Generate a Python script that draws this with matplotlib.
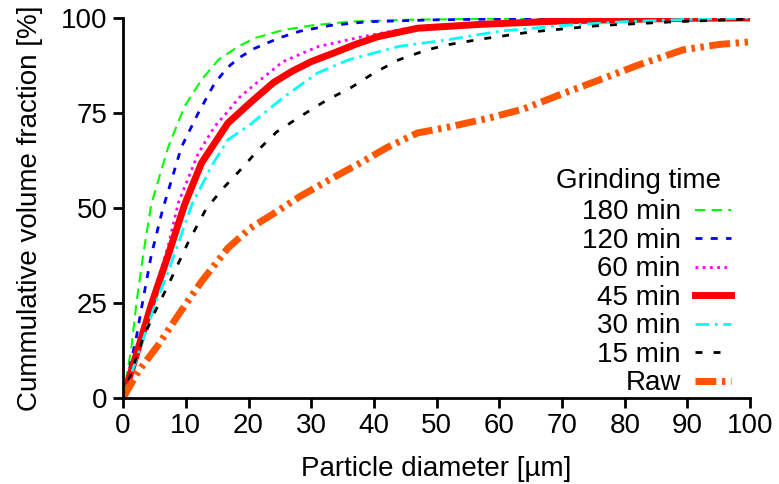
import matplotlib
matplotlib.use("Agg")
import matplotlib.pyplot as plt

plt.rcParams['font.family'] = ['Liberation Sans', 'DejaVu Sans']
plt.rcParams['font.size'] = 20

# Data: particle diameter (um) and cumulative volume fraction (%)
d_180 = [0, 1.3, 2.1, 3.2, 4.5, 7.2, 9.8, 12.5, 15.2, 18.3, 21, 25.5, 30, 36, 45, 60, 80, 100]
v_180 = [0, 13, 24.5, 37.6, 51, 66, 76.7, 83.7, 89, 92.4, 94.7, 96.8, 98, 99, 99.5, 99.8, 100, 100]

d_120 = [0, 2.1, 3.2, 4.5, 6.3, 9.3, 12, 14.6, 16.7, 18.5, 21, 25, 28.2, 33, 39, 50, 65, 80, 100]
v_120 = [0, 15.8, 26, 37.6, 49.5, 66, 75, 82.8, 87, 89.5, 92, 94.8, 96.5, 98, 99, 99.5, 99.8, 100, 100]

d_60 = [0, 2.4, 4.5, 7.2, 8.8, 12, 14.6, 16.5, 18.5, 21, 25.5, 31, 38, 45, 50, 60, 70, 80, 100]
v_60 = [0, 13.5, 25.5, 40, 51.3, 64.4, 71.4, 75, 79, 82.5, 88.5, 92.4, 95, 97.2, 98, 98.8, 99.3, 99.7, 100]

d_45 = [0, 2.4, 4.5, 7.2, 9.8, 12.5, 16.7, 20.5, 24, 27, 30, 33.5, 37, 40.5, 47, 57, 70, 80, 90, 100]
v_45 = [0, 13, 24.5, 37.6, 50.8, 61.8, 72.3, 78, 83, 86, 88.5, 90.7, 93, 95, 97.3, 98.3, 99.2, 99.6, 99.9, 100]

d_30 = [0, 2.7, 5.1, 7.2, 11, 14.1, 16.7, 20.3, 25.5, 31, 36, 44, 52, 60, 70, 80, 90, 100]
v_30 = [0, 13, 24.5, 33.2, 51, 61, 67.9, 72, 79, 85.5, 89, 92.5, 94.3, 96.5, 98, 99, 99.6, 100]

d_15 = [0, 1.9, 3.2, 5.1, 7.2, 10.4, 13.3, 16.2, 19, 21.4, 24.5, 28.2, 32.5, 36.2, 40, 44, 48.5, 52, 57.4, 65, 76, 88, 100]
v_15 = [0, 9.6, 15.8, 22.7, 29.7, 41, 49.9, 55.6, 60.5, 65, 70, 74, 78.4, 81.5, 85.5, 89, 91.6, 93, 94.5, 96.3, 98, 99, 99.7]

d_raw = [0, 2.4, 5.6, 8.8, 12.5, 16.7, 20.3, 24, 28.2, 33, 37.8, 42, 46.9, 52, 58.5, 63.8, 70, 76, 82, 89.3, 95, 100]
v_raw = [0, 6.9, 13.9, 21.8, 30.6, 39.4, 44.7, 48.5, 53, 57.5, 61.8, 65.8, 69.7, 71.3, 73.7, 76, 80, 83.7, 87.5, 91.6, 93, 93.7]

labels = ['180 min', '120 min', '60 min', '45 min', '30 min', '15 min', 'Raw']
legend_title = 'Grinding time'

fig = plt.figure(figsize=(7.79, 4.84), dpi=100)
ax = fig.add_axes([0.158, 0.178, 0.805, 0.785])

ax.plot(d_180, v_180, color='#00ff00', lw=1.5, dashes=(5, 3), label=labels[0])
ax.plot(d_120, v_120, color='#0000ff', lw=2, dashes=(2.5, 3), label=labels[1])
ax.plot(d_60, v_60, color='#ff00ff', lw=2, dashes=(1, 1.6), label=labels[2])
ax.plot(d_45, v_45, color='#ff0000', lw=5, label=labels[3])
ax.plot(d_30, v_30, color='#00ffff', lw=2, dashes=(5, 2, 1, 2), label=labels[4])
ax.plot(d_15, v_15, color='#000000', lw=2, dashes=(2.5, 4), label=labels[5])
ax.plot(d_raw, v_raw, color='#ff5500', lw=5, dashes=(3, 0.8, 0.5, 0.8, 0.5, 0.8), label=labels[6])

ax.set_xlim(0, 100)
ax.set_ylim(0, 100)
ax.set_xticks(range(0, 101, 10))
ax.set_yticks([0, 25, 50, 75, 100])
ax.set_xlabel('Particle diameter [µm]', labelpad=12)
ax.set_ylabel('Cummulative volume fraction [%]', labelpad=13)

for s in ['top', 'right']:
    ax.spines[s].set_visible(False)
for s in ['left', 'bottom']:
    ax.spines[s].set_linewidth(2)
ax.tick_params(direction='out', length=7, width=2, pad=4)

leg = ax.legend(loc='lower right', bbox_to_anchor=(1.0, -0.047),
                frameon=False, markerfirst=False, handlelength=1.3,
                labelspacing=0.09, handletextpad=0.5, borderpad=0.2,
                fontsize=20)
fig.text(556 / 779, 1 - 181 / 484, legend_title, ha='left', va='center', fontsize=20)

fig.savefig('out.png', dpi=100)
